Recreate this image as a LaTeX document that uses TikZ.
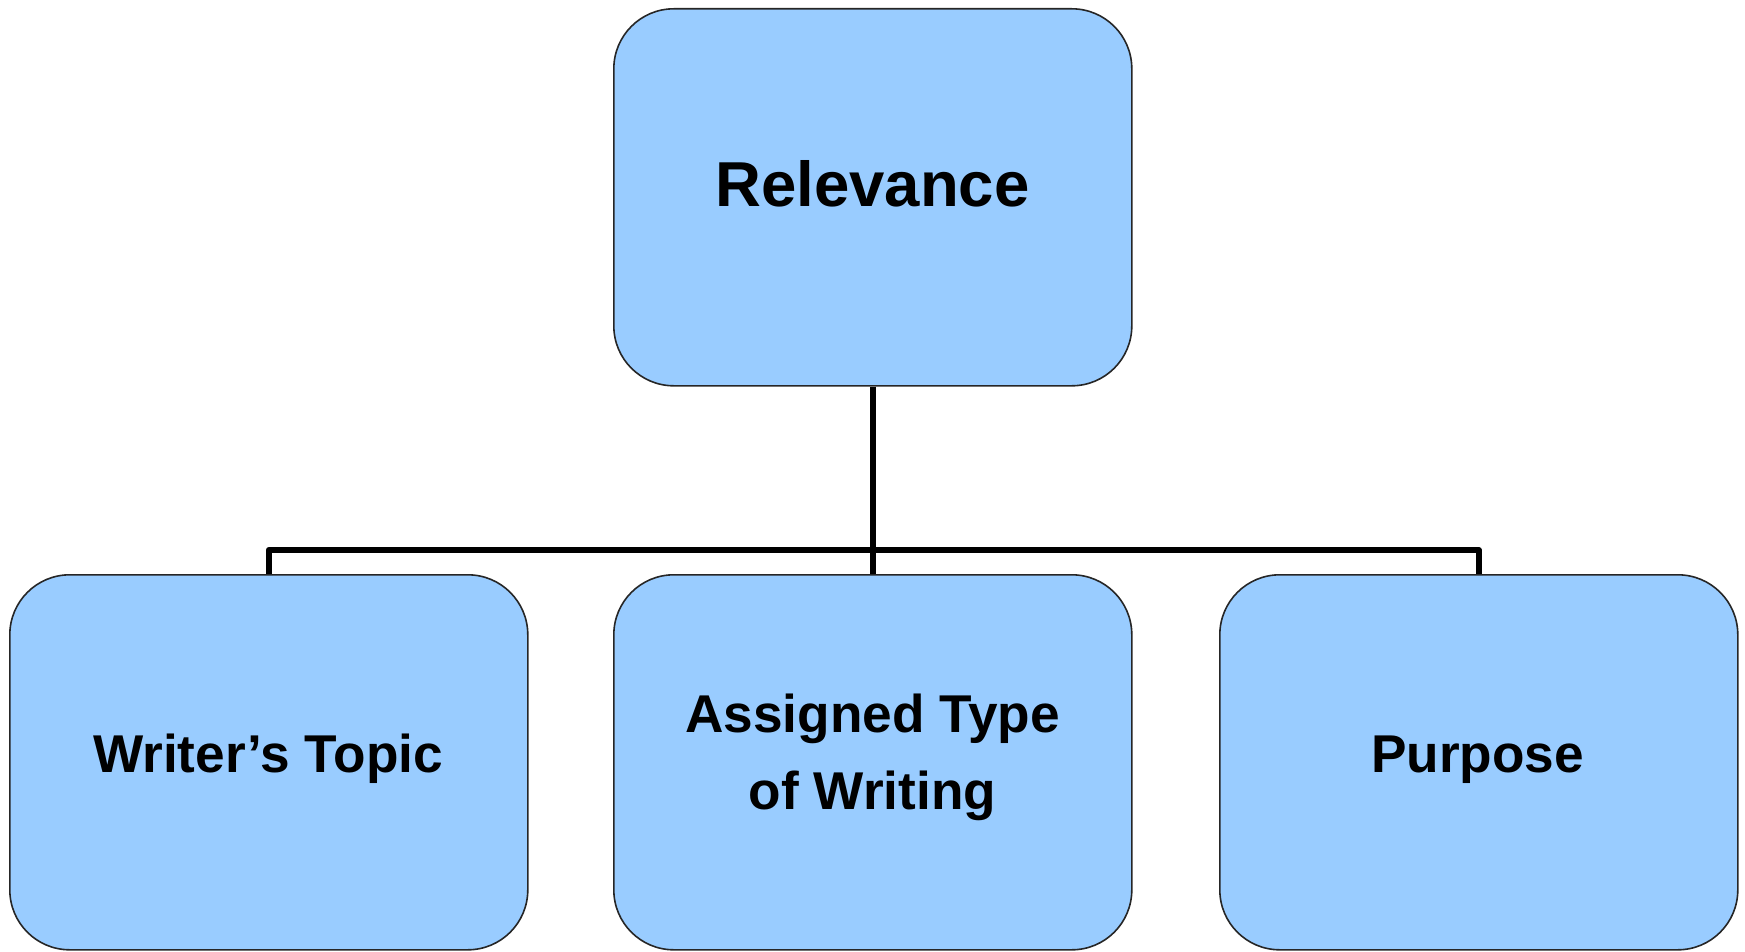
\documentclass[tikz,border=0pt]{standalone}
\usepackage{fontspec}
\setmainfont{Liberation Sans}
\begin{document}
\begin{tikzpicture}[x=1pt,y=-1pt,
  box/.style={draw=black!85,line width=1.6pt,fill=boxblue,rounded corners=60pt,
    minimum width=518pt,minimum height=377pt,inner sep=0pt,anchor=north west},
  toptext/.style={anchor=base,font=\fontsize{63.5}{70}\selectfont\bfseries},
  subtext/.style={anchor=base,font=\fontsize{53.2}{65}\selectfont\bfseries,align=center},
  link/.style={line width=6pt,black,line join=round}]
\definecolor{boxblue}{HTML}{99CCFF}
\useasboundingbox (0,0) rectangle (1745,952);

% boxes
\node[box] (rel) at (613,8) {};
\node[box,minimum height=375pt] (wt) at (9,574) {};
\node[box,minimum height=375pt] (atw) at (613,574) {};
\node[box,minimum height=375pt] (pp) at (1219,574) {};

% connectors
\draw[link] (rel.south) -- (atw.north);
\draw[link] (wt.north) -- ++(0,-24) -| (pp.north);

% labels
\node[toptext] (trel) at (872.5,207) {Relevance};
\node[subtext] (twt) at (268,772) {Writer’s Topic};
\node[subtext] (tatw1) at (872.5,732) {Assigned Type};
\node[subtext] (tatw2) at (872.5,809) {of Writing};
\node[subtext] (tpp) at (1477.5,772) {Purpose};
\end{tikzpicture}
\end{document}
